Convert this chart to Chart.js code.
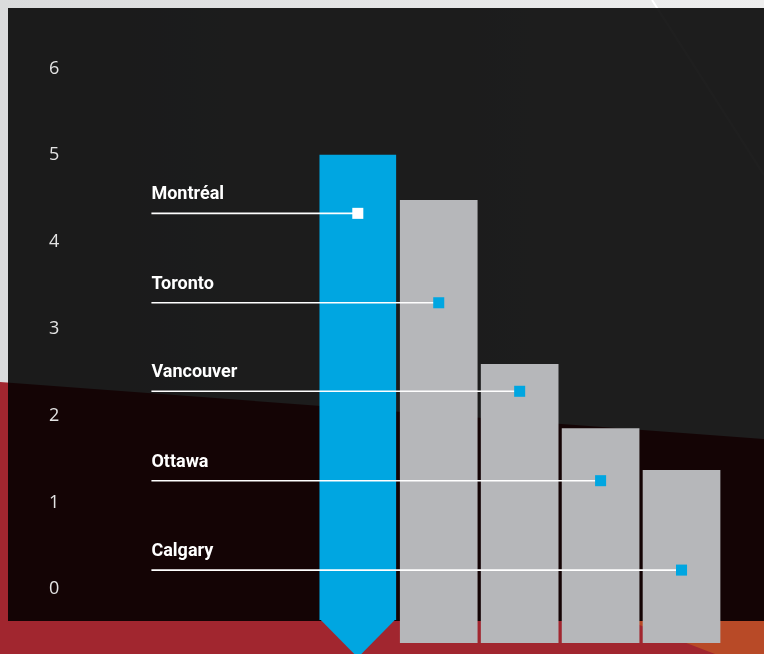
<!DOCTYPE html>
<html>
<head>
<meta charset="utf-8">
<script src="https://cdn.jsdelivr.net/npm/chart.js@4.4.1/dist/chart.umd.min.js"></script>
<style>
  html, body { margin: 0; padding: 0; background: #e8e8e9; }
  #wrap { position: relative; width: 764px; height: 654px; overflow: hidden; }
  #wrap svg, #wrap canvas { position: absolute; left: 0; top: 0; }
</style>
</head>
<body>
<div id="wrap">
  <svg width="764" height="654">
    <defs>
      <linearGradient id="light" x1="0" y1="0" x2="1" y2="0">
        <stop offset="0" stop-color="#dadbdc" />
        <stop offset="1" stop-color="#eeeeee" />
      </linearGradient>
    </defs>
    <rect width="764" height="654" fill="url(#light)" />
    <line x1="652" y1="0" x2="764" y2="175" stroke="#ffffff" stroke-width="2" />
    <polygon points="0,382 764,439 764,654 0,654" fill="#a1262f" />
    <polygon points="629,621 764,621 764,654 715,654" fill="#b84a27" />
    <rect x="8" y="8" width="756" height="613" fill="#000" fill-opacity="0.88" />
  </svg>
  <canvas id="chart" width="764" height="654"></canvas>
</div>
<script>
const cities = ["Montréal", "Toronto", "Vancouver", "Ottawa", "Calgary"];
const barValues = [5.0, 4.48, 2.59, 1.85, 1.37];
const leaderLevels = [4.33, 3.3, 2.28, 1.25, 0.22];
const yTicks = [0, 1, 2, 3, 4, 5, 6];

const BLUE = "#00a6e1";
const GRAY = "#b6b7ba";
const leaderStart = -2.55; // where the label lines begin, in x units
const floorValue = -0.62;  // gray bars sink into the floor
const arrowBase = -0.35;   // blue bar ends here, then the chevron

const leaderSets = cities.map((c, i) => ({
  type: "line",
  data: [
    { x: leaderStart, y: leaderLevels[i] },
    { x: i, y: leaderLevels[i] },
  ],
  borderColor: "#ffffff",
  borderWidth: 1.6,
  pointStyle: "rect",
  pointRadius: [0, 7.8],
  pointBorderWidth: 0,
  pointBackgroundColor: i === 0 ? "#ffffff" : BLUE,
  order: 0,
}));

const blueSet = {
  data: [{ x: 0, y: barValues[0] }],
  backgroundColor: BLUE,
  base: arrowBase,
  barThickness: 76,
  grouped: false,
  order: 1,
};

const graySet = {
  data: barValues.slice(1).map((v, i) => ({ x: i + 1, y: v })),
  backgroundColor: GRAY,
  base: floorValue,
  barThickness: 77,
  grouped: false,
  order: 1,
};

const decorations = {
  id: "decorations",
  afterDatasetsDraw(chart) {
    const { ctx, scales } = chart;
    const meta = chart.getDatasetMeta(cities.length);
    const bar = meta.data[0];
    const half = bar.width / 2;

    // chevron under the highlighted bar
    ctx.save();
    ctx.fillStyle = BLUE;
    ctx.beginPath();
    ctx.moveTo(bar.x - half, bar.base - 0.5);
    ctx.lineTo(bar.x + half, bar.base - 0.5);
    ctx.lineTo(bar.x, bar.base + half);
    ctx.closePath();
    ctx.fill();

    // city names above each leader line
    ctx.font = "700 18px Roboto";
    ctx.fillStyle = "#ffffff";
    ctx.textAlign = "left";
    ctx.textBaseline = "alphabetic";
    const lx = scales.x.getPixelForValue(leaderStart);
    cities.forEach((c, i) => {
      ctx.fillText(c, lx, scales.y.getPixelForValue(leaderLevels[i]) - 14);
    });
    ctx.restore();
  },
};

new Chart(document.getElementById("chart"), {
  type: "bar",
  data: { datasets: [...leaderSets, blueSet, graySet] },
  options: {
    responsive: false,
    animation: false,
    layout: { padding: { left: 49, right: 42, top: 25, bottom: 11 } },
    plugins: { legend: { display: false }, tooltip: { enabled: false } },
    scales: {
      x: {
        type: "linear",
        min: -3,
        max: 4.5,
        offset: false,
        display: false,
      },
      y: {
        min: floorValue,
        max: 6.5,
        afterBuildTicks: (scale) => {
          scale.ticks = yTicks.map((v) => ({ value: v }));
        },
        afterFit: (scale) => {
          scale.width = 66;
        },
        grid: { display: false, drawTicks: false },
        border: { display: false },
        ticks: {
          color: "#e4e4e4",
          padding: 0,
          crossAlign: "far",
          font: { family: "Open Sans", size: 18 },
        },
      },
    },
  },
  plugins: [decorations],
});
</script>
</body>
</html>
